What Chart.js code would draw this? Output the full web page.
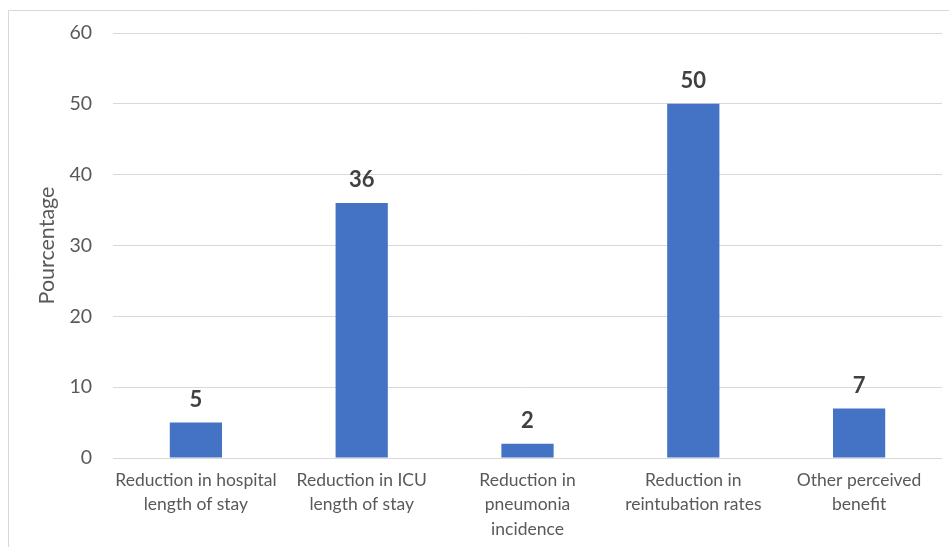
<!DOCTYPE html>
<html>
<head>
<meta charset="utf-8">
<script src="https://cdn.jsdelivr.net/npm/chart.js@4.4.0/dist/chart.umd.min.js"></script>
<style>
html,body{margin:0;padding:0;background:#fff;}
#wrap{position:relative;width:949px;height:547px;}
</style>
</head>
<body>
<div id="wrap"><canvas id="c" width="949" height="547"></canvas></div>
<script>
const categories = [
  ["Reduction in hospital", "length of stay"],
  ["Reduction in ICU", "length of stay"],
  ["Reduction in", "pneumonia", "incidence"],
  ["Reduction in", "reintubation rates"],
  ["Other perceived", "benefit"]
];
const values = [5, 36, 2, 50, 7];
const yTicks = [0, 10, 20, 30, 40, 50, 60];
const yTitle = "Pourcentage";

const FONT = "Lato, 'Open Sans', sans-serif";

const framePlugin = {
  id: 'frame',
  beforeDraw(chart) {
    const ctx = chart.ctx;
    ctx.save();
    ctx.fillStyle = '#fff';
    ctx.fillRect(0, 0, chart.width, chart.height);
    ctx.strokeStyle = '#d9d9d9';
    ctx.lineWidth = 1;
    ctx.beginPath();
    ctx.moveTo(8.5, chart.height);
    ctx.lineTo(8.5, 10.5);
    ctx.lineTo(chart.width, 10.5);
    ctx.stroke();
    ctx.restore();
  }
};

const labelPlugin = {
  id: 'barLabels',
  afterDatasetsDraw(chart) {
    const ctx = chart.ctx;
    const meta = chart.getDatasetMeta(0);
    ctx.save();
    ctx.font = "bold 22px " + FONT;
    ctx.fillStyle = '#404040';
    ctx.textAlign = 'center';
    ctx.textBaseline = 'middle';
    meta.data.forEach((bar, i) => {
      ctx.fillText(String(values[i]), bar.x, bar.y - 23);
    });
    ctx.restore();
  }
};

new Chart(document.getElementById('c'), {
  type: 'bar',
  data: {
    labels: categories,
    datasets: [{
      data: values,
      backgroundColor: '#4472C4',
      borderWidth: 0,
      categoryPercentage: 1,
      barPercentage: 0.315
    }]
  },
  options: {
    responsive: false,
    animation: false,
    devicePixelRatio: 1,
    layout: { padding: { left: 9, top: 33, right: 7, bottom: 0 } },
    plugins: { legend: { display: false }, tooltip: { enabled: false } },
    scales: {
      x: {
        grid: { display: false, drawTicks: false },
        border: { display: false },
        ticks: {
          color: '#595959',
          font: { family: FONT, size: 17.5, lineHeight: 1.4 },
          padding: 10,
          maxRotation: 0,
          autoSkip: false
        },
        afterFit(scale) { scale.height = 89; }
      },
      y: {
        min: 0,
        max: 60,
        afterBuildTicks(scale) { scale.ticks = yTicks.map(v => ({ value: v })); },
        grid: { color: '#d9d9d9', lineWidth: 1, drawTicks: false },
        border: { display: false },
        ticks: {
          color: '#595959',
          font: { family: FONT, size: 19.5 },
          padding: 21
        },
        title: {
          display: true,
          text: yTitle,
          color: '#595959',
          font: { family: FONT, size: 21.5 },
          padding: { top: 25, bottom: 0 }
        },
        afterFit(scale) { scale.width = 104; }
      }
    }
  },
  plugins: [framePlugin, labelPlugin]
});
</script>
</body>
</html>
